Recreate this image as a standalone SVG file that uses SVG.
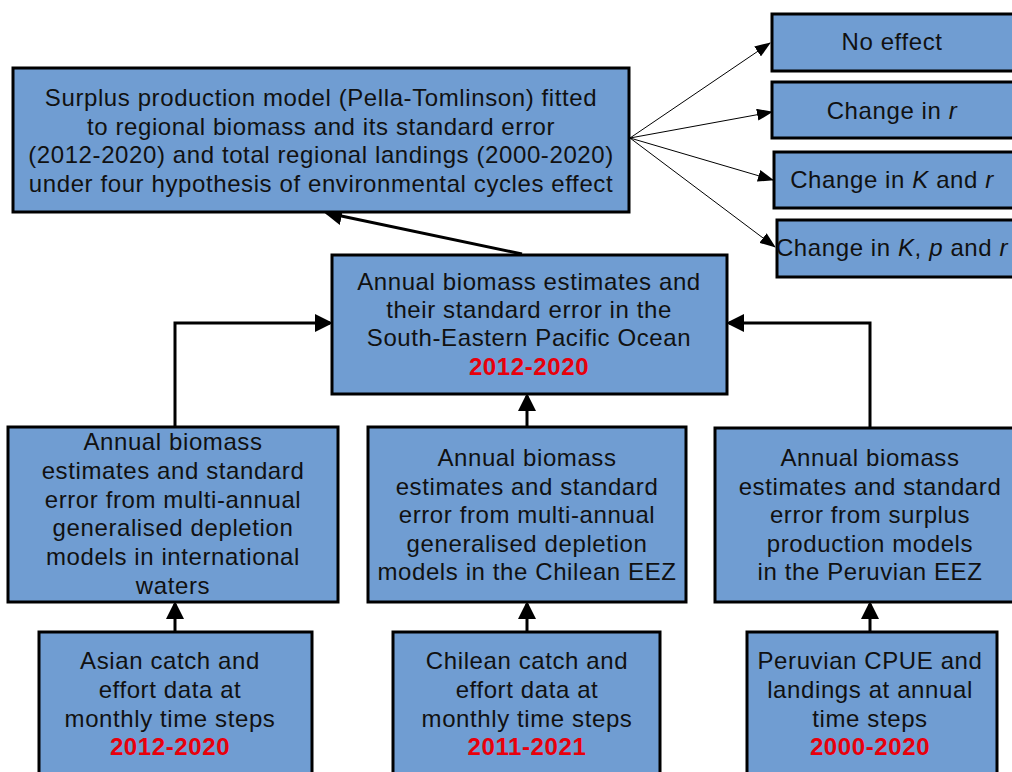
<svg xmlns="http://www.w3.org/2000/svg" width="1012" height="772" viewBox="0 0 1012 772">
<style>
.box{fill:#709dd2;stroke:#000;stroke-width:3}
text{font-family:"Liberation Sans",Arial,sans-serif;font-size:24px;letter-spacing:0.6px;fill:#111;text-anchor:middle}
.red{fill:#e8000b;font-weight:bold}
.thick{stroke:#000;stroke-width:3;fill:none}
.thin{stroke:#000;stroke-width:1;fill:none}
</style>
<defs>
<marker id="ah" markerWidth="6" markerHeight="6" refX="5" refY="3" orient="auto" markerUnits="strokeWidth"><path d="M0,0 L6,3 L0,6 z" fill="#000"/></marker>
<marker id="ahs" markerWidth="16" markerHeight="12" refX="15" refY="6" orient="auto" markerUnits="userSpaceOnUse"><path d="M0,0 L16,6 L0,12 z" fill="#000"/></marker>
</defs>
<rect width="1012" height="772" fill="#fff"/>
<g id="connectors">
<path class="thin" d="M630,138 L770,43" marker-end="url(#ahs)"/>
<path class="thin" d="M630,138 L772,112" marker-end="url(#ahs)"/>
<path class="thin" d="M630,138 L773,180" marker-end="url(#ahs)"/>
<path class="thin" d="M630,138 L775,247" marker-end="url(#ahs)"/>
<path class="thick" d="M522,254 L327,213" marker-end="url(#ah)"/>
<path class="thick" d="M175,427 L175,323 L330,323" marker-end="url(#ah)"/>
<path class="thick" d="M870,427 L870,323 L729,323" marker-end="url(#ah)"/>
<path class="thick" d="M527,427 L527,396" marker-end="url(#ah)"/>
<path class="thick" d="M175,632 L175,604" marker-end="url(#ah)"/>
<path class="thick" d="M527,632 L527,604" marker-end="url(#ah)"/>
<path class="thick" d="M870,632 L870,604" marker-end="url(#ah)"/>
</g>
<g id="n_model">
<rect class="box" x="13" y="68" width="616" height="144"/>
<text x="321" y="106">Surplus production model (Pella-Tomlinson) fitted</text>
<text x="321" y="135">to regional biomass and its standard error</text>
<text x="321" y="163">(2012-2020) and total regional landings (2000-2020)</text>
<text x="321" y="192">under four hypothesis of environmental cycles effect</text>
</g>
<g id="n_noeffect">
<rect class="box" x="772" y="14" width="245" height="57"/>
<text x="892" y="50">No effect</text>
</g>
<g id="n_r">
<rect class="box" x="772" y="82" width="245" height="56"/>
<text x="892" y="119">Change in <tspan font-style="italic">r</tspan></text>
</g>
<g id="n_kr">
<rect class="box" x="774" y="152" width="245" height="56"/>
<text x="892" y="188">Change in <tspan font-style="italic">K</tspan> and <tspan font-style="italic">r</tspan></text>
</g>
<g id="n_kpr">
<rect class="box" x="777" y="220" width="245" height="57"/>
<text x="892" y="256">Change in <tspan font-style="italic">K</tspan>, <tspan font-style="italic">p</tspan> and <tspan font-style="italic">r</tspan></text>
</g>
<g id="n_sepo">
<rect class="box" x="332" y="255" width="395" height="139"/>
<text x="529" y="290">Annual biomass estimates and</text>
<text x="529" y="318">their standard error in the</text>
<text x="529" y="346">South-Eastern Pacific Ocean</text>
<text class="red" x="529" y="375">2012-2020</text>
</g>
<g id="n_intl">
<rect class="box" x="8" y="427" width="330" height="175"/>
<text x="173" y="450">Annual biomass</text>
<text x="173" y="479">estimates and standard</text>
<text x="173" y="508">error from multi-annual</text>
<text x="173" y="536">generalised depletion</text>
<text x="173" y="565">models in international</text>
<text x="173" y="594">waters</text>
</g>
<g id="n_chile">
<rect class="box" x="368" y="427" width="318" height="175"/>
<text x="527" y="466">Annual biomass</text>
<text x="527" y="495">estimates and standard</text>
<text x="527" y="523">error from multi-annual</text>
<text x="527" y="552">generalised depletion</text>
<text x="527" y="580">models in the Chilean EEZ</text>
</g>
<g id="n_peru">
<rect class="box" x="715" y="428" width="300" height="174"/>
<text x="870" y="466">Annual biomass</text>
<text x="870" y="495">estimates and standard</text>
<text x="870" y="523">error from surplus</text>
<text x="870" y="552">production models</text>
<text x="870" y="580">in the Peruvian EEZ</text>
</g>
<g id="n_asian">
<rect class="box" x="39" y="632" width="273" height="150"/>
<text x="170" y="669">Asian catch and</text>
<text x="170" y="698">effort data at</text>
<text x="170" y="727">monthly time steps</text>
<text class="red" x="170" y="755">2012-2020</text>
</g>
<g id="n_chilean">
<rect class="box" x="393" y="632" width="267" height="150"/>
<text x="527" y="669">Chilean catch and</text>
<text x="527" y="698">effort data at</text>
<text x="527" y="727">monthly time steps</text>
<text class="red" x="527" y="755">2011-2021</text>
</g>
<g id="n_peruvian">
<rect class="box" x="747" y="632" width="250" height="150"/>
<text x="870" y="669">Peruvian CPUE and</text>
<text x="870" y="698">landings at annual</text>
<text x="870" y="727">time steps</text>
<text class="red" x="870" y="755">2000-2020</text>
</g>
</svg>
